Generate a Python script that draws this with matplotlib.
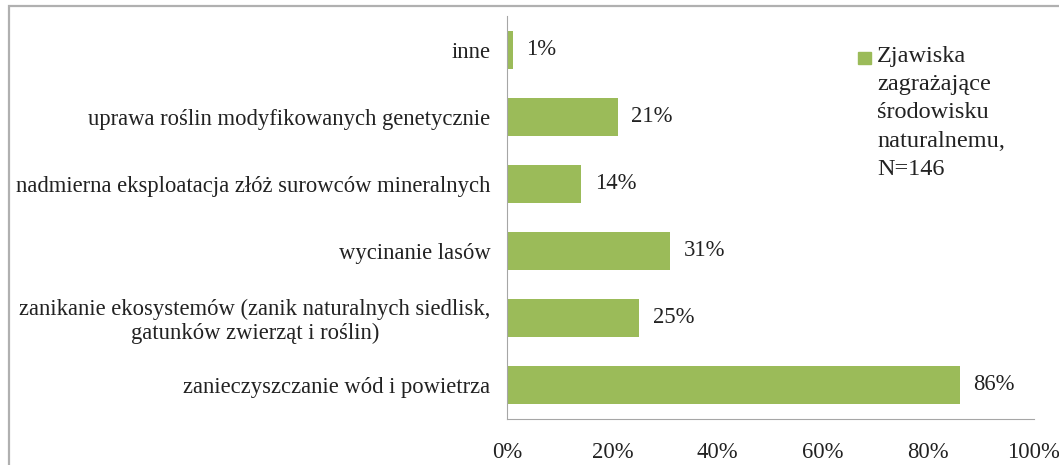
import matplotlib.pyplot as plt
from matplotlib.patches import Rectangle

# Zjawiska zagrazajace srodowisku naturalnemu, N=146
categories = [
    "zanieczyszczanie wód i powietrza",
    "zanikanie ekosystemów (zanik naturalnych siedlisk,\ngatunków zwierząt i roślin)",
    "wycinanie lasów",
    "nadmierna eksploatacja złóż surowców mineralnych",
    "uprawa roślin modyfikowanych genetycznie",
    "inne",
]
values = [86, 25, 31, 14, 21, 1]
ticks = [0, 20, 40, 60, 80, 100]
legend_text = "Zjawiska\nzagrażające\nśrodowisku\nnaturalnemu,\nN=146"

green = "#9BBB59"
plt.rcParams["font.family"] = ["Liberation Serif", "DejaVu Serif"]
fs = 16.3

fig = plt.figure(figsize=(10.59, 4.65), dpi=100)
ax = fig.add_axes([0.479, 0.1, 0.497, 0.865])

ax.barh(range(len(values)), values, height=0.56, color=green)
for i, v in enumerate(values):
    ax.text(v + 2.6, i, f"{v}%", va="center", ha="left", fontsize=fs, color="#222222")

ax.set_xlim(0, 100)
ax.set_ylim(-0.5, len(values) - 0.5)
ax.set_yticks(range(len(categories)))
ax.set_yticklabels(categories, fontsize=fs, color="#222222",
                   multialignment="center", linespacing=1.15)
ax.set_xticks(ticks)
ax.set_xticklabels([f"{t}%" for t in ticks], fontsize=fs, color="#222222")
ax.tick_params(axis="both", length=0)
ax.tick_params(axis="x", pad=17)
ax.tick_params(axis="y", pad=12)

for s in ["top", "right"]:
    ax.spines[s].set_visible(False)
ax.spines["left"].set_color("#a6a6a6")
ax.spines["bottom"].set_color("#a6a6a6")

# legend
fig.patches.append(Rectangle((858 / 1059, 1 - 64 / 465), 13 / 1059, 12 / 465,
                             transform=fig.transFigure, color=green))
fig.text(877 / 1059, 1 - 46 / 465, legend_text, fontsize=17.5, va="top", ha="left",
         color="#222222", linespacing=1.45)

# outer frame (right and bottom edges fall outside the image)
fig.patches.append(Rectangle((8.5 / 1059, -0.1), 1.2, 1.1 - 6.5 / 465,
                             transform=fig.transFigure, fill=False,
                             edgecolor="#b0b0b0", linewidth=1.6))

fig.savefig("out.png", dpi=100)
